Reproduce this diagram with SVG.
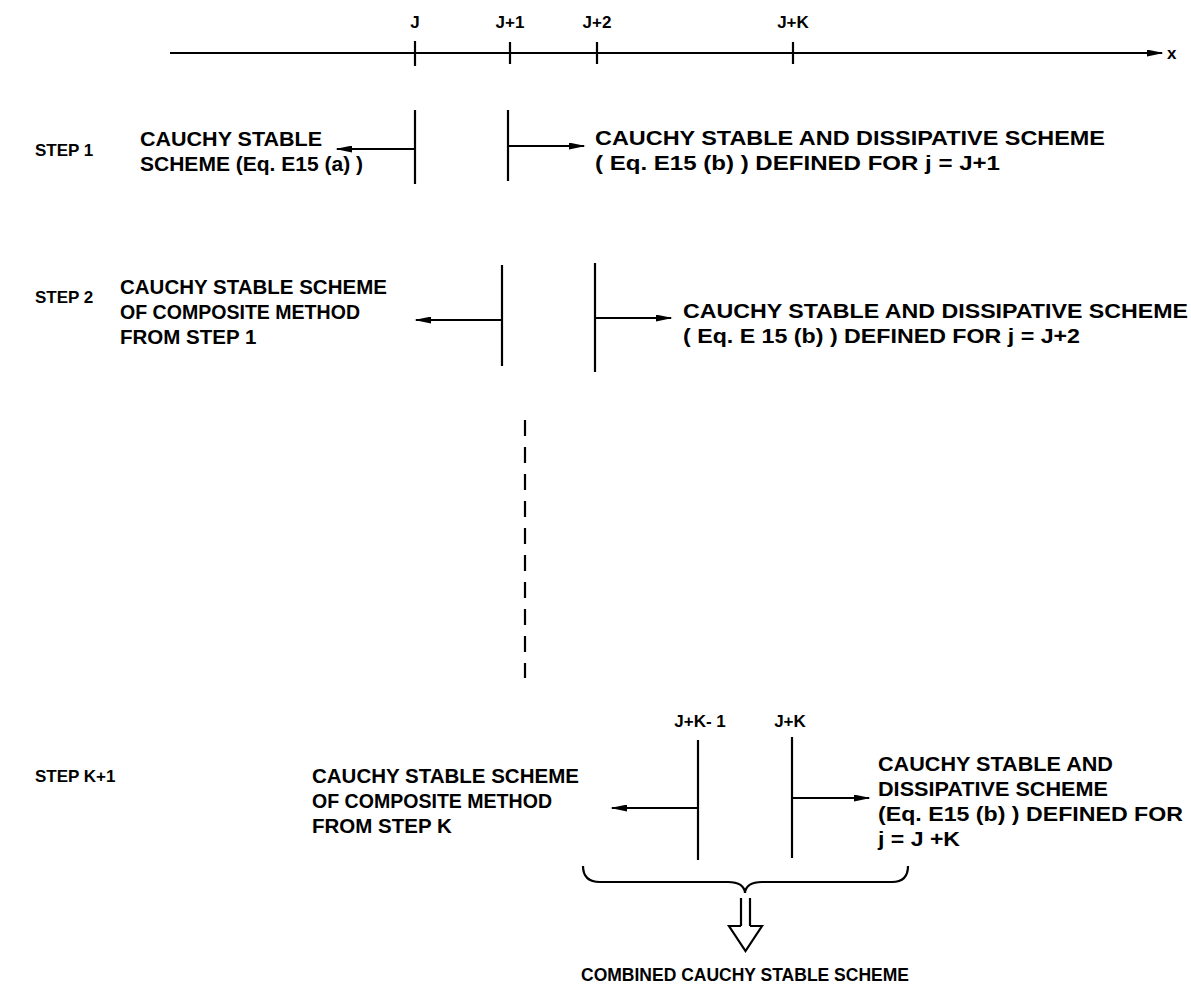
<svg xmlns="http://www.w3.org/2000/svg" width="1191" height="994" viewBox="0 0 1191 994">
<defs>
<marker id="ah" viewBox="0 0 10 10" refX="9" refY="5" markerWidth="17" markerHeight="7" markerUnits="userSpaceOnUse" orient="auto" preserveAspectRatio="none">
<path d="M0,0 L10,5 L0,10 z" fill="#000"/>
</marker>
</defs>
<style>
text{font-family:"Liberation Sans",Arial,sans-serif;font-weight:bold;font-size:21px;fill:#000}
.s{font-size:17px}
.t{font-size:17px;text-anchor:middle}
.b{font-size:17.5px;text-anchor:middle}
.m{font-size:20.5px}
.ln{stroke:#000;stroke-width:2.2;fill:none}
.ar{stroke:#000;stroke-width:2.2;fill:none;marker-end:url(#ah)}
</style>
<rect width="1191" height="994" fill="#fff"/>
<g id="axis">
<line class="ar" x1="170" y1="53" x2="1162" y2="53"/>
<line class="ln" x1="415" y1="41" x2="415" y2="66"/>
<line class="ln" x1="510" y1="42" x2="510" y2="64"/>
<line class="ln" x1="597" y1="42" x2="597" y2="64"/>
<line class="ln" x1="793" y1="42" x2="793" y2="64"/>
<text class="t" x="415" y="28">J</text>
<text class="t" x="510" y="28">J+1</text>
<text class="t" x="597" y="28">J+2</text>
<text class="t" x="793" y="28">J+K</text>
<text class="s" x="1167" y="59">x</text>
</g>
<g id="step1">
<text class="s" x="35" y="156">STEP 1</text>
<text x="140" y="146" textLength="182" lengthAdjust="spacingAndGlyphs">CAUCHY STABLE</text>
<text x="140" y="171" textLength="223" lengthAdjust="spacingAndGlyphs">SCHEME  (Eq. E15 (a) )</text>
<line class="ln" x1="415" y1="110" x2="415" y2="184"/>
<line class="ar" x1="415" y1="149" x2="337" y2="149"/>
<line class="ln" x1="508" y1="110" x2="508" y2="181"/>
<line class="ar" x1="508" y1="146" x2="584" y2="146"/>
<text x="595" y="145" textLength="510" lengthAdjust="spacingAndGlyphs">CAUCHY STABLE AND DISSIPATIVE SCHEME</text>
<text x="595" y="170" textLength="405" lengthAdjust="spacingAndGlyphs">( Eq. E15 (b) )  DEFINED FOR j = J+1</text>
</g>
<g id="step2">
<text class="s" x="35" y="303">STEP 2</text>
<text class="m" x="120" y="294">CAUCHY STABLE SCHEME</text>
<text class="m" x="120" y="319" textLength="240" lengthAdjust="spacingAndGlyphs">OF COMPOSITE METHOD</text>
<text class="m" x="120" y="344">FROM STEP 1</text>
<line class="ln" x1="502" y1="265" x2="502" y2="366"/>
<line class="ar" x1="502" y1="320" x2="416" y2="320"/>
<line class="ln" x1="595" y1="263" x2="595" y2="372"/>
<line class="ar" x1="595" y1="318" x2="671" y2="318"/>
<text x="683" y="318" textLength="505" lengthAdjust="spacingAndGlyphs">CAUCHY STABLE AND DISSIPATIVE SCHEME</text>
<text x="683" y="343" textLength="397" lengthAdjust="spacingAndGlyphs">( Eq. E 15 (b) )  DEFINED FOR j = J+2</text>
</g>
<g id="continuation">
<line class="ln" x1="525" y1="420" x2="525" y2="678" stroke-dasharray="16 11"/>
</g>
<g id="stepK1">
<text class="s" x="35" y="782">STEP K+1</text>
<text class="t" x="700" y="727">J+K- 1</text>
<text class="t" x="790" y="727">J+K</text>
<text class="m" x="312" y="783">CAUCHY STABLE SCHEME</text>
<text class="m" x="312" y="808" textLength="240" lengthAdjust="spacingAndGlyphs">OF COMPOSITE METHOD</text>
<text class="m" x="312" y="833">FROM STEP K</text>
<line class="ln" x1="698" y1="740" x2="698" y2="860"/>
<line class="ar" x1="698" y1="808" x2="612" y2="808"/>
<line class="ln" x1="792" y1="737" x2="792" y2="858"/>
<line class="ar" x1="792" y1="798" x2="869" y2="798"/>
<text x="878" y="771" textLength="235" lengthAdjust="spacingAndGlyphs">CAUCHY STABLE AND</text>
<text x="878" y="796" textLength="230" lengthAdjust="spacingAndGlyphs">DISSIPATIVE SCHEME</text>
<text x="878" y="821" textLength="305" lengthAdjust="spacingAndGlyphs">(Eq. E15 (b) )  DEFINED FOR</text>
<text x="878" y="846" textLength="82" lengthAdjust="spacingAndGlyphs">j = J +K</text>
</g>
<g id="combined">
<path class="ln" d="M583,866 Q583,882 600,882 L728,882 Q744,882 745,893 Q746,882 762,882 L892,882 Q908,882 908,866"/>
<line class="ln" x1="741" y1="898" x2="741" y2="926"/>
<line class="ln" x1="750" y1="898" x2="750" y2="926"/>
<path class="ln" d="M741,926 L729,926 L745.5,951 L762,926 L750,926"/>
<text class="b" x="745" y="981">COMBINED CAUCHY STABLE SCHEME</text>
</g>
</svg>
